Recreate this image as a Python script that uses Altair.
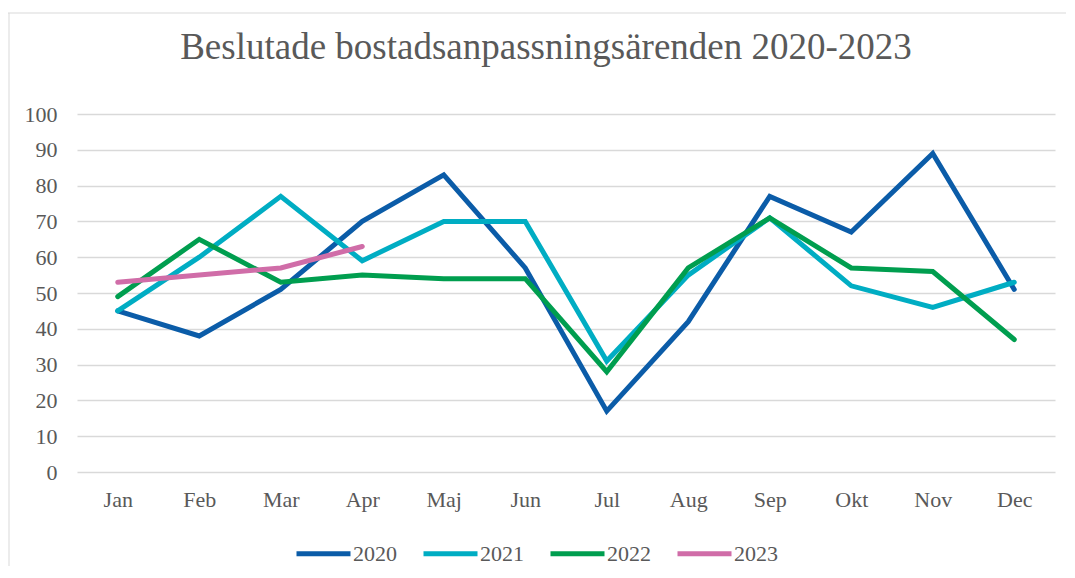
import altair as alt
import pandas as pd

months = ["Jan", "Feb", "Mar", "Apr", "Maj", "Jun", "Jul", "Aug", "Sep", "Okt", "Nov", "Dec"]
y2020 = [45, 38, 51, 70, 83, 57, 17, 42, 77, 67, 89, 51]
y2021 = [45, 60, 77, 59, 70, 70, 31, 55, 71, 52, 46, 53]
y2022 = [49, 65, 53, 55, 54, 54, 28, 57, 71, 57, 56, 37]
y2023 = [53, 55, 57, 63]
years = ["2020", "2021", "2022", "2023"]
colors = ["#0B5CA8", "#00ADC3", "#009E4F", "#D06DA8"]

rows = []
for yr, vals in zip(years, [y2020, y2021, y2022, y2023]):
    for m, v in zip(months, vals):
        rows.append({"Månad": m, "År": yr, "Antal": v})
df = pd.DataFrame(rows)

FONT = "Liberation Serif"
GREY = "#595959"

lines = alt.Chart(df).mark_line(strokeWidth=5, strokeCap="round").encode(
    x=alt.X("Månad:N", sort=months, scale=alt.Scale(padding=0.5),
            axis=alt.Axis(title=None, labelAngle=0, domain=False, ticks=False,
                          grid=False, labelPadding=17)),
    y=alt.Y("Antal:Q", scale=alt.Scale(domain=[0, 100], nice=False),
            axis=alt.Axis(title=None, values=list(range(0, 101, 10)), domain=False,
                          ticks=False, grid=True, labelPadding=20)),
    color=alt.Color("År:N", scale=alt.Scale(domain=years, range=colors),
                    legend=alt.Legend(title=None, orient="none", direction="horizontal",
                                      legendX=217, legendY=410, symbolType="stroke",
                                      symbolSize=2916, symbolStrokeWidth=5,
                                      labelOffset=0, columnPadding=16)),
)

frame_df = pd.DataFrame({"k": [0]})
top_border = alt.Chart(frame_df).mark_rule(color="#d9d9d9", strokeWidth=1).encode(
    x=alt.value(-69), x2=alt.value(1000), y=alt.value(-101))
left_border = alt.Chart(frame_df).mark_rule(color="#d9d9d9", strokeWidth=1).encode(
    x=alt.value(-68), y=alt.value(-101), y2=alt.value(470))

chart = alt.layer(top_border, left_border, lines).properties(
    width=978, height=358,
    title=alt.TitleParams("Beslutade bostadsanpassningsärenden 2020-2023",
                          font=FONT, fontSize=37, fontWeight="normal", color=GREY,
                          anchor="middle", dx=-20, offset=-54),
    autosize=alt.AutoSizeParams(type="none"),
    padding={"left": 69, "top": 106, "right": 11, "bottom": 94},
).configure_axis(
    labelFont=FONT, labelFontSize=22, labelColor=GREY,
    gridColor="#d9d9d9", gridWidth=1.5,
).configure_legend(
    labelFont=FONT, labelFontSize=22, labelColor=GREY,
).configure_view(stroke=None)

chart.save("out.html", embed_options={"renderer": "svg", "actions": False})
